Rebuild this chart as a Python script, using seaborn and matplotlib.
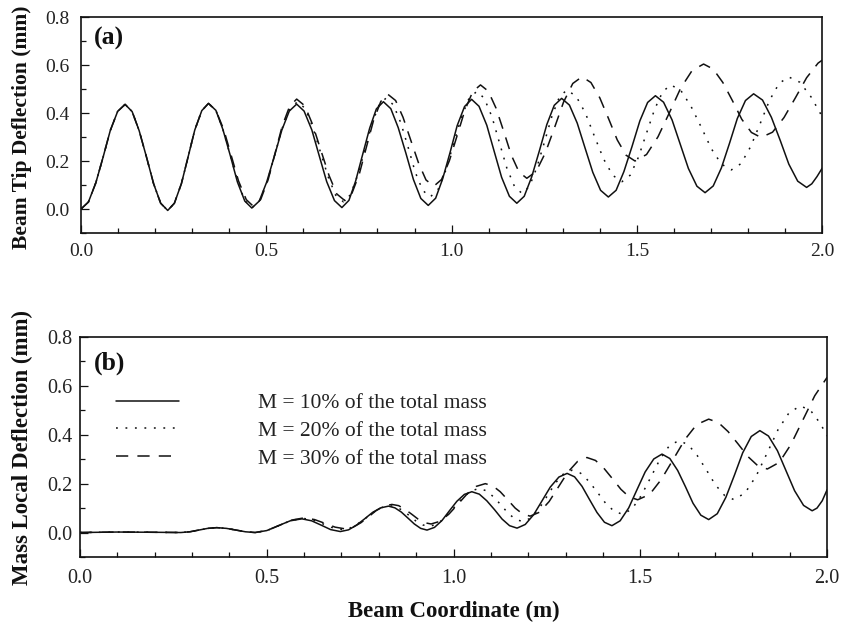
import numpy as np
import pandas as pd
import matplotlib
matplotlib.use("Agg")
import matplotlib.pyplot as plt
from matplotlib.ticker import MultipleLocator, FormatStrFormatter
import seaborn as sns

# ---------------- data ----------------
series_labels = ["M = 10% of the total mass", "M = 20% of the total mass", "M = 30% of the total mass"]

# Panel (a): beam tip deflection
a10_x = [0, .020, .040, .060, .079, .099, .119, .138, .157, .177, .196, .215, .234, .252, .271, .289, .307, .326, .344,
         .364, .383, .403, .422, .442, .461, .481, .501, .522, .542, .562, .582, .602, .623, .643, .663, .684, .704,
         .723, .741, .760, .779, .797, .816, .836, .856, .877, .897, .917, .937, .957, .976, .996, 1.015, 1.035, 1.054,
         1.074, 1.095, 1.115, 1.135, 1.156, 1.176, 1.196, 1.216, 1.237, 1.257, 1.277, 1.297, 1.318, 1.339, 1.360, 1.381,
         1.402, 1.423, 1.444, 1.465, 1.487, 1.508, 1.529, 1.550, 1.572, 1.595, 1.617, 1.639, 1.662, 1.684, 1.706, 1.728,
         1.750, 1.771, 1.793, 1.815, 1.839, 1.863, 1.887, 1.910, 1.934, 1.958, 1.972, 1.986, 2.0]
a10_y = [0, .029, .109, .218, .327, .407, .436, .406, .326, .215, .105, .024, -.006, .024, .106, .217, .329, .410, .44,
         .411, .331, .222, .113, .033, .004, .033, .112, .221, .329, .408, .437, .408, .329, .221, .114, .035, .006,
         .036, .116, .227, .337, .417, .447, .418, .339, .231, .123, .044, .015, .045, .126, .236, .347, .427, .457,
         .428, .349, .240, .132, .053, .024, .053, .133, .243, .352, .432, .461, .433, .358, .255, .153, .078, .05,
         .078, .156, .261, .367, .444, .472, .445, .371, .270, .169, .095, .068, .096, .171, .274, .377, .452, .48,
         .454, .382, .285, .187, .116, .09, .105, .135, .17]

a20_x = [0, .020, .040, .060, .079, .099, .119, .138, .157, .177, .196, .215, .234, .252, .271, .289, .307, .326, .344,
         .364, .383, .403, .423, .442, .462, .482, .503, .523, .543, .564, .584, .605, .625, .646, .667, .687, .708,
         .727, .746, .766, .785, .804, .823, .843, .863, .883, .902, .922, .942, .963, .984, 1.005, 1.026, 1.047, 1.068,
         1.088, 1.109, 1.129, 1.149, 1.170, 1.19, 1.210, 1.230, 1.251, 1.271, 1.291, 1.311, 1.336, 1.361, 1.385, 1.410,
         1.435, 1.46, 1.482, 1.504, 1.526, 1.548, 1.570, 1.592, 1.619, 1.646, 1.674, 1.701, 1.728, 1.755, 1.781, 1.807,
         1.833, 1.858, 1.884, 1.91, 1.94, 1.97, 2.0]
a20_y = [0, .029, .109, .218, .327, .407, .436, .406, .326, .215, .105, .024, -.006, .024, .106, .217, .329, .410, .44,
         .411, .331, .223, .114, .035, .006, .036, .116, .227, .337, .417, .447, .419, .343, .238, .134, .058, .03,
         .059, .138, .246, .354, .433, .462, .434, .359, .256, .153, .078, .05, .079, .16, .27, .38, .461, .49,
         .462, .384, .277, .171, .093, .065, .094, .173, .281, .388, .467, .496, .470, .400, .305, .209, .140, .114,
         .141, .215, .316, .416, .490, .517, .493, .428, .340, .251, .187, .163, .189, .260, .357, .453, .524, .55,
         .528, .467, .385]

a30_x = [0, .020, .040, .060, .079, .099, .119, .138, .157, .177, .196, .215, .234, .252, .271, .289, .307, .326, .344,
         .364, .385, .405, .425, .446, .466, .485, .505, .524, .543, .563, .582, .604, .625, .647, .669, .690, .712,
         .731, .751, .770, .789, .809, .828, .849, .869, .890, .911, .931, .952, .973, .994, 1.015, 1.036, 1.057, 1.078,
         1.099, 1.120, 1.141, 1.161, 1.182, 1.203, 1.228, 1.253, 1.278, 1.302, 1.327, 1.352, 1.376, 1.400, 1.424, 1.447,
         1.471, 1.495, 1.526, 1.557, 1.588, 1.618, 1.649, 1.68, 1.706, 1.732, 1.758, 1.783, 1.809, 1.835, 1.866, 1.897,
         1.928, 1.958, 1.989, 2.0]
a30_y = [0, .029, .109, .218, .327, .407, .436, .406, .326, .215, .105, .024, -.006, .024, .106, .217, .329, .410, .44,
         .411, .332, .225, .117, .039, .01, .040, .122, .234, .346, .428, .458, .430, .352, .246, .141, .063, .035,
         .065, .146, .257, .367, .448, .478, .452, .382, .286, .191, .121, .095, .123, .201, .306, .412, .489, .517,
         .491, .420, .322, .225, .154, .128, .156, .234, .340, .445, .523, .551, .527, .463, .375, .288, .224, .2,
         .227, .301, .402, .503, .577, .604, .583, .527, .451, .374, .319, .298, .320, .381, .464, .547, .608, .620]

# Panel (b): mass local deflection
b10_x = [0, .1, .2, .27, .294, .318, .342, .366, .392, .418, .443, .469, .500, .531, .563, .594, .620, .646, .671, .697,
         .719, .740, .762, .783, .805, .826, .843, .860, .878, .895, .912, .929, .949, .969, .989, 1.009, 1.029, 1.049,
         1.069, 1.089, 1.110, 1.130, 1.150, 1.17, 1.192, 1.215, 1.237, 1.259, 1.282, 1.304, 1.324, 1.344, 1.364, 1.384,
         1.404, 1.424, 1.446, 1.469, 1.491, 1.513, 1.536, 1.558, 1.579, 1.600, 1.621, 1.641, 1.662, 1.683, 1.706, 1.729,
         1.752, 1.774, 1.797, 1.82, 1.843, 1.867, 1.890, 1.913, 1.937, 1.96, 1.973, 1.987, 2.0]
b10_y = [0, .002, .001, 0, .003, .01, .017, .02, .017, .01, .003, 0, .008, .028, .048, .056, .048, .030, .012, .004,
         .011, .030, .056, .082, .101, .108, .101, .084, .059, .035, .017, .01, .021, .049, .089, .128, .156, .167,
         .157, .130, .093, .055, .028, .018, .033, .074, .130, .186, .227, .242, .228, .189, .135, .082, .042, .028,
         .048, .101, .175, .248, .301, .321, .303, .254, .187, .120, .071, .053, .077, .144, .235, .326, .393, .417,
         .395, .335, .253, .171, .111, .089, .1, .13, .175]

b20_x = [0, .1, .2, .27, .294, .318, .342, .366, .392, .418, .443, .469, .501, .533, .566, .598, .624, .651, .677, .703,
         .724, .745, .767, .788, .809, .83, .848, .865, .883, .900, .918, .935, .957, .979, 1.002, 1.024, 1.046, 1.068,
         1.088, 1.107, 1.127, 1.146, 1.166, 1.185, 1.207, 1.229, 1.251, 1.273, 1.295, 1.317, 1.340, 1.362, 1.385, 1.407,
         1.430, 1.452, 1.477, 1.502, 1.528, 1.553, 1.578, 1.603, 1.628, 1.652, 1.677, 1.701, 1.726, 1.75, 1.780, 1.810,
         1.840, 1.869, 1.899, 1.929, 1.956, 1.982, 2.0]
b20_y = [0, .002, .001, 0, .003, .01, .017, .02, .017, .01, .003, 0, .008, .029, .050, .058, .051, .035, .019, .012,
         .019, .037, .061, .086, .103, .11, .104, .089, .068, .046, .031, .025, .035, .064, .103, .141, .170, .18,
         .171, .146, .113, .079, .054, .045, .059, .098, .150, .203, .241, .255, .243, .210, .165, .120, .087, .075,
         .095, .150, .226, .301, .356, .376, .360, .316, .256, .195, .151, .135, .161, .231, .327, .422, .492, .518,
         .499, .446, .395]

b30_x = [0, .1, .2, .27, .294, .318, .342, .366, .392, .418, .443, .469, .502, .535, .567, .6, .628, .655, .683, .71,
         .731, .752, .773, .793, .814, .835, .853, .870, .888, .905, .923, .94, .964, .988, 1.013, 1.037, 1.061, 1.085,
         1.105, 1.125, 1.145, 1.165, 1.185, 1.205, 1.230, 1.256, 1.281, 1.306, 1.332, 1.357, 1.380, 1.402, 1.425, 1.448,
         1.470, 1.493, 1.525, 1.556, 1.588, 1.620, 1.651, 1.683, 1.709, 1.735, 1.762, 1.788, 1.814, 1.84, 1.872, 1.903,
         1.935, 1.967, 2.0]
b30_y = [0, .002, .001, 0, .003, .01, .017, .02, .017, .01, .003, 0, .009, .03, .051, .06, .053, .038, .022, .015,
         .022, .04, .065, .09, .108, .115, .110, .095, .075, .055, .040, .035, .046, .076, .118, .159, .189, .2,
         .191, .167, .134, .100, .076, .067, .083, .127, .187, .247, .291, .307, .295, .264, .221, .177, .146, .134,
         .156, .217, .299, .382, .442, .464, .450, .413, .362, .311, .274, .26, .287, .36, .46, .56, .635]

x_ticks = [0.0, 0.5, 1.0, 1.5, 2.0]
y_ticks = [0.0, 0.2, 0.4, 0.6, 0.8]

# ---------------- styling ----------------
sns.set_style("ticks")
plt.rcParams["font.family"] = ["Liberation Serif", "DejaVu Serif"]
plt.rcParams["lines.solid_joinstyle"] = "round"
plt.rcParams["lines.dash_joinstyle"] = "round"

fig = plt.figure(figsize=(8.49, 6.23), dpi=100)
ax_a = fig.add_axes([0.0954, 0.626, 0.873, 0.3467])
ax_b = fig.add_axes([0.0942, 0.106, 0.880, 0.353])

styles = ["-", (0, (1.2, 5.0)), (0, (8, 6))]
INK = "#111111"

def draw(ax, xs, ys, labels):
    for x, y, ls, lab in zip(xs, ys, styles, labels):
        df = pd.DataFrame({"x": x, "y": y})
        sns.lineplot(data=df, x="x", y="y", ax=ax, color=INK, linestyle=ls, linewidth=1.1,
                     errorbar=None, sort=False, estimator=None, label=lab)

draw(ax_a, [a10_x, a20_x, a30_x], [a10_y, a20_y, a30_y], series_labels)
draw(ax_b, [b10_x, b20_x, b30_x], [b10_y, b20_y, b30_y], series_labels)

for ax, xpad, ypad, lsz in ((ax_a, 7, 8, 14), (ax_b, 9, 5.5, 14.5)):
    ax.set_xlim(0, 2.0)
    ax.set_ylim(-0.1, 0.8)
    ax.set_xticks(x_ticks)
    ax.set_yticks(y_ticks)
    ax.xaxis.set_minor_locator(MultipleLocator(0.1))
    ax.yaxis.set_minor_locator(MultipleLocator(0.1))
    ax.xaxis.set_major_formatter(FormatStrFormatter("%.1f"))
    ax.yaxis.set_major_formatter(FormatStrFormatter("%.1f"))
    ax.tick_params(which="both", direction="in", top=False, right=False, colors=INK, width=0.9)
    ax.tick_params(which="major", length=5.5)
    ax.tick_params(which="minor", length=3.5)
    ax.tick_params(axis="x", which="major", labelsize=lsz, pad=xpad, labelcolor="#222222")
    ax.tick_params(axis="y", which="major", labelsize=lsz, pad=ypad, labelcolor="#222222")
    for s in ax.spines.values():
        s.set_visible(True)
        s.set_linewidth(1.2)
        s.set_color(INK)
    ax.set_xlabel("")

leg = ax_a.get_legend()
if leg is not None:
    leg.remove()

ax_a.set_ylabel("Beam Tip Deflection (mm)", fontsize=15.5, fontweight="bold", color=INK)
ax_a.yaxis.set_label_coords(-0.066, 0.49)
ax_b.set_ylabel("Mass Local Deflection (mm)", fontsize=16.5, fontweight="bold", color=INK)
ax_b.yaxis.set_label_coords(-0.063, 0.5)
ax_b.set_xlabel("Beam Coordinate (m)", fontsize=16.5, fontweight="bold", color=INK, labelpad=9)

ax_a.text(0.018, 0.90, "(a)", transform=ax_a.transAxes, fontsize=18.5, fontweight="bold",
          ha="left", va="center", color=INK)
ax_b.text(0.018, 0.88, "(b)", transform=ax_b.transAxes, fontsize=18.5, fontweight="bold",
          ha="left", va="center", color=INK)

ax_b.legend(loc="upper left", bbox_to_anchor=(0.048, 0.745), frameon=False, fontsize=15.5,
            handlelength=2.95, handletextpad=3.65, labelspacing=0.36, borderaxespad=0, borderpad=0,
            labelcolor="#222222")

fig.savefig("out.png", dpi=100)
